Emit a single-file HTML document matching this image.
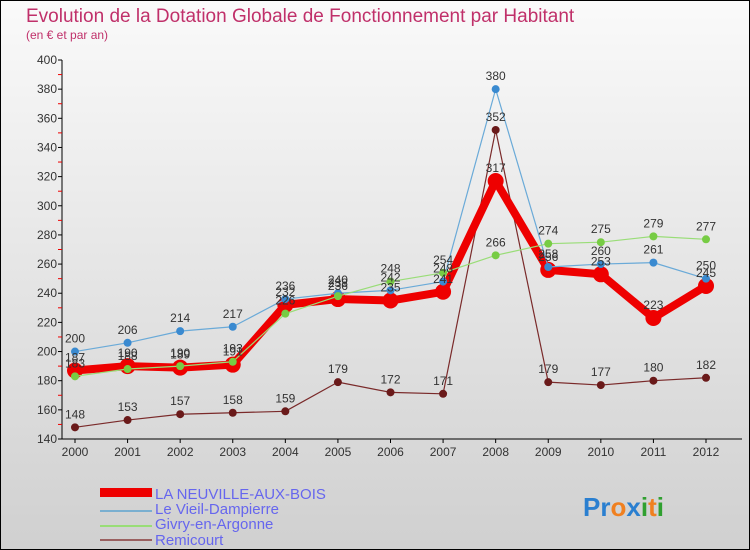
<!DOCTYPE html>
<html><head><meta charset="utf-8"><style>
body{margin:0}
svg{display:block;font-family:"Liberation Sans",sans-serif}
</style></head><body>
<svg id="c" width="750" height="550" xmlns="http://www.w3.org/2000/svg">
<defs><linearGradient id="bg" x1="0" y1="0" x2="0" y2="1"><stop offset="0" stop-color="#fafafa"/><stop offset="1" stop-color="#d0d0d0"/></linearGradient></defs>
<rect x="0.5" y="0.5" width="749" height="549" fill="url(#bg)" stroke="#000"/>
<text x="26" y="22" font-size="19" fill="#c0306a">Evolution de la Dotation Globale de Fonctionnement par Habitant</text>
<text x="26" y="39" font-size="12" fill="#c0306a">(en € et par an)</text>
<g id="axes"></g>
<g id="series"></g>
<g id="legend">
<rect x="100" y="488" width="52" height="9" fill="#e00"/>
<line x1="100" y1="511" x2="152" y2="511" stroke="#7aafd0" stroke-width="2"/>
<line x1="100" y1="526" x2="152" y2="526" stroke="#99dd77" stroke-width="2"/>
<line x1="100" y1="540" x2="152" y2="540" stroke="#9a6060" stroke-width="2"/>
<g font-size="15" fill="#6666ee">
<text x="155" y="499">LA NEUVILLE-AUX-BOIS</text>
<text x="155" y="514">Le Vieil-Dampierre</text>
<text x="155" y="529">Givry-en-Argonne</text>
<text x="155" y="545">Remicourt</text>
</g></g>
<text x="583" y="516" font-size="26" font-weight="bold"><tspan fill="#2a7fd0">P</tspan><tspan fill="#2a7fd0">r</tspan><tspan fill="#f08020">o</tspan><tspan fill="#2a7fd0">x</tspan><tspan fill="#30a030">i</tspan><tspan fill="#f08020">t</tspan><tspan fill="#30a030">i</tspan></text>
</svg>
<script>
const years=[2000,2001,2002,2003,2004,2005,2006,2007,2008,2009,2010,2011,2012];
const yTicks=[140,160,180,200,220,240,260,280,300,320,340,360,380,400];
const neuville=[187,190,189,191,232,236,235,241,317,256,253,223,245];
const vieil=[200,206,214,217,236,240,242,248,380,258,260,261,250];
const givry=[183,188,190,193,226,238,248,254,266,274,275,279,277];
const remicourt=[148,153,157,158,159,179,172,171,352,179,177,180,182];
const NS="http://www.w3.org/2000/svg";
const X0=75,X1=706,Y0=439,Y1=60,VMIN=140,VMAX=400;
function xs(i){return X0+(X1-X0)*i/(years.length-1);}
function ys(v){return Y0-(v-VMIN)/(VMAX-VMIN)*(Y0-Y1);}
function mk(t,a,p){const e=document.createElementNS(NS,t);for(const k in a)e.setAttribute(k,a[k]);p.appendChild(e);return e;}
const ax=document.getElementById('axes');
let l=mk('line',{x1:62,y1:Y1,x2:62,y2:Y0,stroke:'#000'},ax);


l=mk('line',{x1:62,y1:Y0,x2:742,y2:Y0,stroke:'#000'},ax);


yTicks.forEach((v,i)=>{
  const y=ys(v);
  mk('line',{x1:58,y1:y,x2:62,y2:y,stroke:'#000'},ax);
  if(i<yTicks.length-1)mk('line',{x1:58,y1:ys(v+10),x2:62,y2:ys(v+10),stroke:'#e00'},ax);
  const t=mk('text',{x:57,y:y+4,'font-size':12,'text-anchor':'end',fill:'#333'},ax);
  t.textContent=v;
  
  
});
years.forEach((yr,i)=>{
  const x=xs(i);
  mk('line',{x1:x,y1:Y0,x2:x,y2:Y0+4,stroke:'#000'},ax);
  const t=mk('text',{x:x,y:Y0+17,'font-size':12,'text-anchor':'middle',fill:'#333'},ax);
  t.textContent=yr;
  
  
});
const sg=document.getElementById('series');
function draw(data,name,color,dot,w,r){
  const g=mk('g',{},sg);
  
  
  const p=mk('polyline',{points:data.map((v,i)=>xs(i)+','+ys(v)).join(' '),fill:'none',stroke:color,'stroke-width':w,'stroke-linejoin':'round'},g);
  
  
  data.forEach((v,i)=>{
    const c=mk('circle',{cx:xs(i),cy:ys(v),r:r,fill:dot},g);
    
    
  });
}
function labels(data,name){
  data.forEach((v,i)=>{
    const t=mk('text',{x:xs(i),y:ys(v)-9,'font-size':12,'text-anchor':'middle',fill:'#333'},sg);
    t.textContent=v;
    
    
  });
}
draw(remicourt,'remicourt','#7a2a2a','#6a1a1a',1.2,4);
draw(neuville,'la-neuville','#ee0000','#ee0000',8,8);
draw(vieil,'vieil','#6aaad8','#3a8ad0',1.2,4);
draw(givry,'givry','#99dd77','#77cc44',1.2,4);
labels(remicourt,'remicourt');labels(neuville,'la-neuville');labels(vieil,'vieil');labels(givry,'givry');
</script>
</body></html>
